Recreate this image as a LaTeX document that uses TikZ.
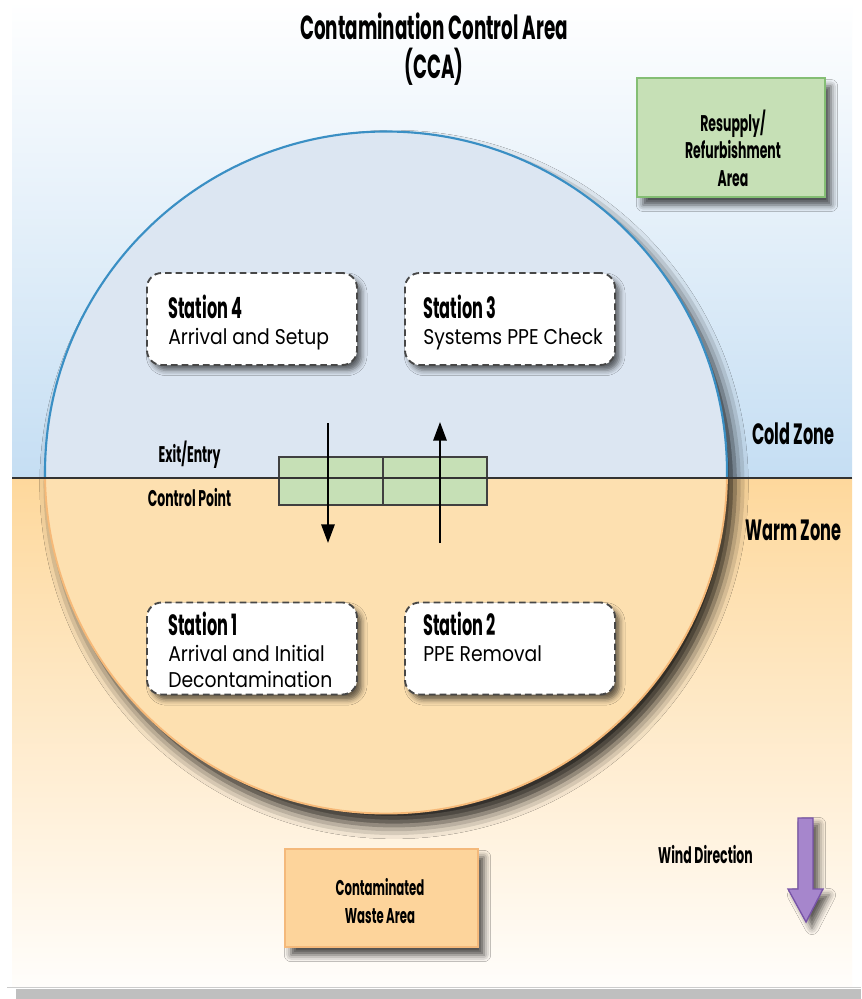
\documentclass[tikz,border=0pt]{standalone}
\usepackage{fontspec}
\setmainfont{Poppins}[FakeStretch=0.88]
\newfontfamily\condfont{Poppins}[FakeStretch=0.55]
\usetikzlibrary{shadows.blur}
\usetikzlibrary{arrows.meta}

\definecolor{coldsky}{RGB}{197,222,243}
\definecolor{coldfill}{RGB}{220,230,242}
\definecolor{coldline}{RGB}{58,143,196}
\definecolor{warmsky}{RGB}{254,216,156}
\definecolor{warmfill}{RGB}{253,224,176}
\definecolor{warmline}{RGB}{246,185,120}
\definecolor{padgreen}{RGB}{198,224,182}
\definecolor{padgreenline}{RGB}{132,190,116}
\definecolor{wastefill}{RGB}{253,212,155}
\definecolor{wasteline}{RGB}{244,185,123}
\definecolor{windfill}{RGB}{166,134,204}
\definecolor{windline}{RGB}{120,84,168}

\tikzset{
  cflabel/.style={font=\condfont\bfseries, inner sep=0pt},
  stationbox/.style={draw=black!72, line width=1.4pt, dash pattern=on 5pt off 3pt, fill=white, rounded corners=11pt, minimum width=157.5pt, minimum height=69pt, blur shadow={shadow xshift=3.5pt, shadow yshift=-4pt, shadow blur radius=4pt, shadow opacity=60}},
  stationtext/.style={anchor=north west, inner sep=0pt, align=left, font=\fontsize{16}{19.5}\selectfont},
  areabox/.style={line width=1.5pt, blur shadow={shadow xshift=4.5pt, shadow yshift=-6pt, shadow blur radius=5pt, shadow opacity=70}},
  flowarrow/.style={draw=black, line width=1.5pt, -{Triangle[length=14pt,width=10pt]}},
}

\begin{document}
\begin{tikzpicture}[x=0.75pt,y=0.75pt,yscale=-1,xscale=1]
\useasboundingbox (0,0) rectangle (861,999);
\fill[white] (0,0) rectangle (861,999);
% sky and ground
\shade[top color=white, bottom color=coldsky] (12,0) rectangle (852,478);
\shade[top color=warmsky, bottom color=white!96!warmsky] (12,478) rectangle (852,987);
\draw[black!20, line width=0.8pt] (7,987.5) -- (861,987.5);
\fill[black!25] (16,989) rectangle (861,999);

% the circle
\path[blur shadow={shadow xshift=6pt, shadow yshift=-9pt, shadow blur radius=10pt, shadow opacity=85}] (386,472.5) circle[radius=341];
\begin{scope}
\clip (0,0) rectangle (861,478);
\fill[coldfill] (386,472.5) circle[radius=341];
\draw[coldline, line width=1.6pt] (386,472.5) circle[radius=341];
\end{scope}
\begin{scope}
\clip (0,478) rectangle (861,999);
\fill[warmfill] (386,472.5) circle[radius=341];
\draw[warmline, line width=1.4pt] (386,472.5) circle[radius=341];
\end{scope}

% title
\node[cflabel, align=center, font=\condfont\bfseries\fontsize{25}{29}\selectfont, anchor=north] (title) at (434,13) {Contamination Control Area\\(CCA)};

% resupply and waste areas
\node[areabox, fill=padgreen, draw=padgreenline, minimum width=141pt, minimum height=89pt] (resupply) at (731,137.5) {};
\node[cflabel, align=center, font=\condfont\bfseries\fontsize{17}{20.6}\selectfont] (resupplytxt) at (733,148) {Resupply/\\Refurbishment\\Area};
\node[areabox, fill=wastefill, draw=wasteline, minimum width=144.75pt, minimum height=73.5pt] (waste) at (381.5,898) {};
\node[cflabel, align=center, font=\condfont\bfseries\fontsize{16}{21}\selectfont] (wastetxt) at (380,901.5) {Contaminated\\Waste Area};

% stations
\node[stationbox] (st4) at (252,319) {};
\node[stationbox] (st3) at (510,319) {};
\node[stationbox] (st1) at (252,648.5) {};
\node[stationbox] (st2) at (510,648.5) {};
\node[stationtext] (st4txt) at (168,295) {{\condfont\bfseries\fontsize{22}{20}\selectfont Station 4}\\Arrival and Setup};
\node[stationtext] (st3txt) at (423,295) {{\condfont\bfseries\fontsize{22}{20}\selectfont Station 3}\\Systems PPE Check};
\node[stationtext] (st1txt) at (168,612) {{\condfont\bfseries\fontsize{22}{20}\selectfont Station 1}\\Arrival and Initial\\Decontamination};
\node[stationtext] (st2txt) at (423,612) {{\condfont\bfseries\fontsize{22}{20}\selectfont Station 2}\\PPE Removal};

% control point
\node[fill=padgreen, draw=black!75, line width=1.2pt, minimum width=156pt, minimum height=36pt, inner sep=0pt] (cp) at (383,481) {};
\draw[black!75, line width=1.2pt] (cp.north) -- (cp.south);
\draw[black!80, line width=1.8pt] (12,478) -- (852,478);
\coordinate (exittop) at (328,423);
\coordinate (exitend) at (328,543);
\coordinate (entrybot) at (440,543);
\coordinate (entrytop) at (440,422);
\draw[flowarrow] (exittop) -- (exitend);
\draw[flowarrow] (entrybot) -- (entrytop);
\node[cflabel, font=\condfont\bfseries\fontsize{17}{17}\selectfont, anchor=base] (exitlbl) at (189.5,462) {Exit/Entry};
\node[cflabel, font=\condfont\bfseries\fontsize{17}{17}\selectfont, anchor=base] (cplbl) at (189.5,506) {Control Point};

% zones
\node[cflabel, font=\condfont\bfseries\fontsize{22}{22}\selectfont, anchor=base] (cold) at (793.5,444) {Cold Zone};
\node[cflabel, font=\condfont\bfseries\fontsize{22}{22}\selectfont, anchor=base] (warm) at (793.5,540) {Warm Zone};

% wind
\node[cflabel, font=\condfont\bfseries\fontsize{17}{17}\selectfont, anchor=base] (windlbl) at (705.5,863) {Wind Direction};
\draw[fill=windfill, draw=windline, line width=1pt, blur shadow={shadow xshift=4.5pt, shadow yshift=-4.5pt, shadow blur radius=5pt, shadow opacity=65}]
  (798,818) -- (813,818) -- (813,889) -- (823,889) -- (806,922) -- (788,889) -- (798,889) -- cycle;
\end{tikzpicture}
\end{document}
